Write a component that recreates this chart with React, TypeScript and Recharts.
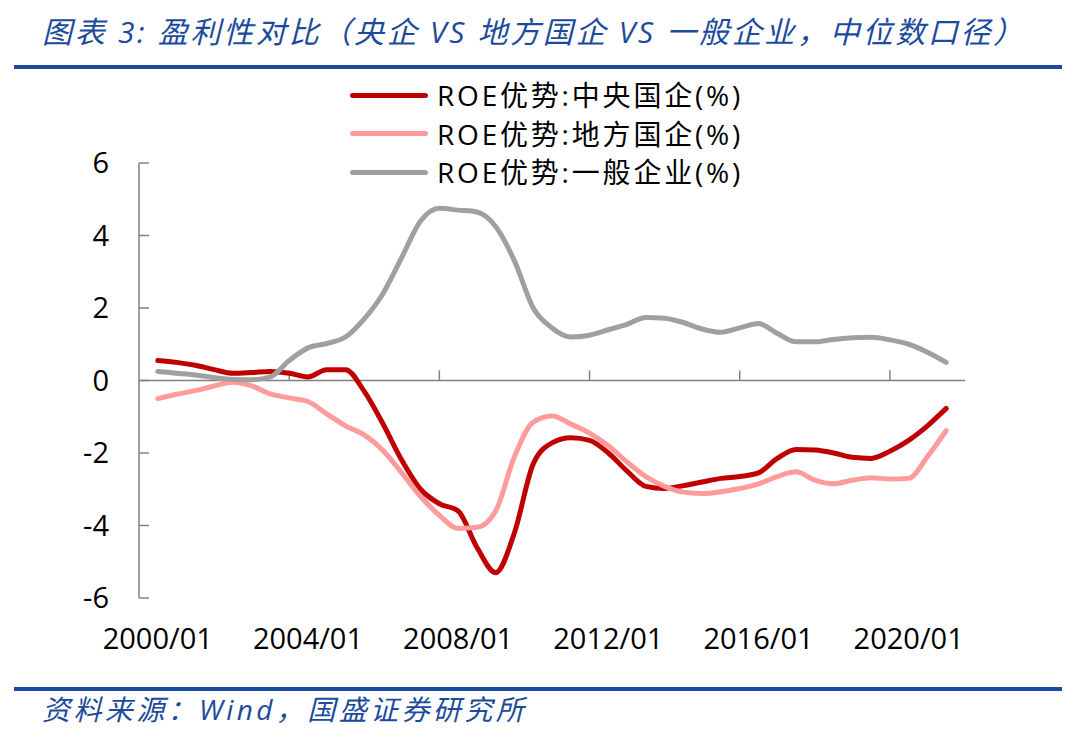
import { LineChart, Line, XAxis, YAxis, ReferenceLine } from "recharts"

// half-year observations, 2000/01 .. 2021/01
const dates = [
  "2000/01", "2000/07", "2001/01", "2001/07", "2002/01", "2002/07", "2003/01", "2003/07",
  "2004/01", "2004/07", "2005/01", "2005/07", "2006/01", "2006/07", "2007/01", "2007/07",
  "2008/01", "2008/07", "2009/01", "2009/07", "2010/01", "2010/07", "2011/01", "2011/07",
  "2012/01", "2012/07", "2013/01", "2013/07", "2014/01", "2014/07", "2015/01", "2015/07",
  "2016/01", "2016/07", "2017/01", "2017/07", "2018/01", "2018/07", "2019/01", "2019/07",
  "2020/01", "2020/07", "2021/01",
]

const central = [
  0.55, 0.5, 0.42, 0.3, 0.2, 0.22, 0.25, 0.2,
  0.1, 0.3, 0.3, -0.3, -1.2, -2.2, -3.0, -3.4,
  -3.6, -4.6, -5.3, -4.2, -2.3, -1.72, -1.58, -1.65,
  -2.0, -2.5, -2.92, -2.98, -2.9, -2.8, -2.7, -2.65,
  -2.55, -2.15, -1.9, -1.92, -2.0, -2.12, -2.15, -1.95,
  -1.65, -1.25, -0.77,
]

const local = [
  -0.5, -0.38, -0.28, -0.15, -0.05, -0.15, -0.37, -0.48,
  -0.58, -0.92, -1.25, -1.5, -1.93, -2.55, -3.2, -3.72,
  -4.08, -4.05, -3.6, -2.1, -1.15, -0.98, -1.2, -1.45,
  -1.8, -2.25, -2.65, -2.92, -3.08, -3.12, -3.07, -2.98,
  -2.85, -2.65, -2.52, -2.75, -2.85, -2.75, -2.68, -2.72,
  -2.7, -2.1, -1.38,
]

const general = [
  0.25, 0.2, 0.15, 0.08, 0.03, 0.02, 0.1, 0.55,
  0.9, 1.02, 1.2, 1.7, 2.4, 3.4, 4.4, 4.75,
  4.7, 4.65, 4.25, 3.3, 2.0, 1.45, 1.2, 1.25,
  1.4, 1.55, 1.74, 1.72, 1.6, 1.42, 1.33, 1.45,
  1.57, 1.3, 1.07, 1.07, 1.13, 1.18, 1.19, 1.12,
  1.0, 0.78, 0.5,
]

const yTicks = [-6, -4, -2, 0, 2, 4, 6]
const xLabelYears = [2000, 2004, 2008, 2012, 2016, 2020]
const xTickMarks = [2003.5, 2007.5, 2011.5, 2015.5, 2019.5]

const legendItems = [
  { key: "central", label: "ROE优势:中央国企(%)", color: "#C00000" },
  { key: "local", label: "ROE优势:地方国企(%)", color: "#FF9B9B" },
  { key: "general", label: "ROE优势:一般企业(%)", color: "#A0A0A0" },
]

const toYear = (d: string) => {
  const [y, m] = d.split("/").map(Number)
  return y + (m - 1) / 12
}

const data = dates.map((d, i) => ({
  t: toYear(d),
  central: central[i],
  local: local[i],
  general: general[i],
}))

const FONT = "'Open Sans', 'Noto Sans CJK SC', sans-serif"
const BLUE = "#1C4A9C"

export default function App() {
  return (
    <div
      style={{
        position: "absolute",
        left: 0,
        top: 0,
        width: 1080,
        height: 747,
        background: "#fff",
        fontFamily: FONT,
        overflow: "hidden",
      }}
    >
      {/* title */}
      <div
        style={{
          position: "absolute",
          left: 42,
          top: 17,
          fontSize: 30,
          lineHeight: "30px",
          fontStyle: "italic",
          color: BLUE,
          letterSpacing: 2.7,
          whiteSpace: "nowrap",
        }}
      >
        图表 3: 盈利性对比（央企 VS 地方国企 VS 一般企业，中位数口径）
      </div>
      <div style={{ position: "absolute", left: 14, top: 65, width: 1048, height: 4, background: BLUE }} />

      <LineChart
        width={1080}
        height={747}
        data={data}
        margin={{ top: 163, right: 115, bottom: 89, left: 89 }}
        style={{ position: "absolute", left: 0, top: 0 }}
      >
        <XAxis
          dataKey="t"
          type="number"
          domain={[1999.5, 2021.5]}
          ticks={xLabelYears}
          tickFormatter={(v) => `${v}/01`}
          allowDataOverflow
          axisLine={false}
          tickLine={false}
          tickSize={0}
          tickMargin={30}
          height={60}
          tick={{ fontSize: 29, fill: "#000", fontFamily: FONT }}
        />
        <YAxis
          type="number"
          domain={[-6, 6]}
          ticks={yTicks}
          width={50}
          axisLine={{ stroke: "#808080", strokeWidth: 1.5 }}
          tickLine={{ stroke: "#808080", strokeWidth: 1.5 }}
          tickSize={-10}
          tickMargin={40}
          tick={{ fontSize: 29, fill: "#000", fontFamily: FONT }}
        />
        <ReferenceLine y={0} stroke="#808080" strokeWidth={1.5} />
        {xTickMarks.map((x) => (
          <ReferenceLine
            key={x}
            segment={[{ x, y: 0 }, { x, y: 0.28 }]}
            stroke="#808080"
            strokeWidth={1.5}
          />
        ))}
        <Line type="monotone" dataKey="central" stroke="#C00000" strokeWidth={5} dot={false} isAnimationActive={false} strokeLinecap="round" />
        <Line type="monotone" dataKey="local" stroke="#FF9B9B" strokeWidth={5} dot={false} isAnimationActive={false} strokeLinecap="round" />
        <Line type="monotone" dataKey="general" stroke="#A0A0A0" strokeWidth={5} dot={false} isAnimationActive={false} strokeLinecap="round" />
      </LineChart>

      {/* legend */}
      <div style={{ position: "absolute", left: 350, top: 76 }}>
        {legendItems.map(({ key, label, color }) => (
          <div key={key} style={{ display: "flex", alignItems: "center", height: 38.5 }}>
            <div style={{ width: 78, height: 5, borderRadius: 3, background: color, marginRight: 9 }} />
            <span style={{ fontSize: 28, lineHeight: "30px", color: "#000", letterSpacing: 2.8, whiteSpace: "nowrap" }}>
              {label}
            </span>
          </div>
        ))}
      </div>

      {/* source */}
      <div style={{ position: "absolute", left: 14, top: 687, width: 1048, height: 4, background: BLUE }} />
      <div
        style={{
          position: "absolute",
          left: 42,
          top: 695,
          fontSize: 28,
          lineHeight: "28px",
          fontStyle: "italic",
          color: BLUE,
          letterSpacing: 3.4,
          whiteSpace: "nowrap",
        }}
      >
        资料来源：Wind，国盛证券研究所
      </div>
    </div>
  )
}
